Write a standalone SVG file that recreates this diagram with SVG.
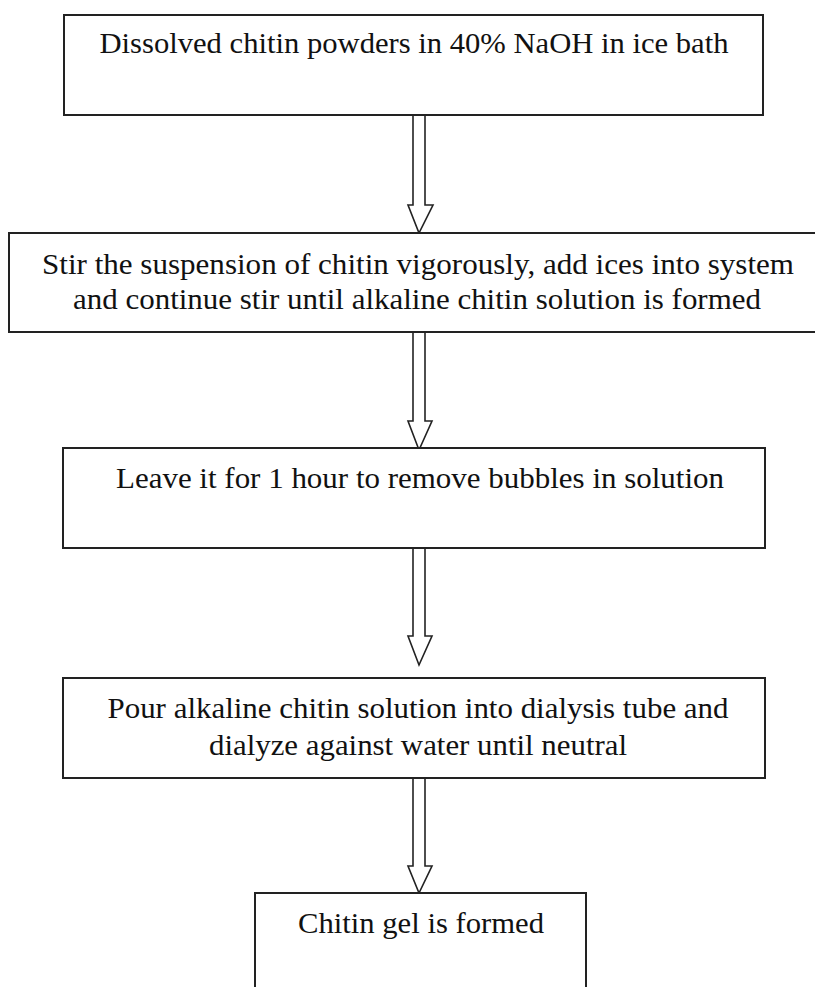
<svg xmlns="http://www.w3.org/2000/svg" width="815" height="987" viewBox="0 0 815 987">
<style>
.box{fill:#fff;stroke:#222;stroke-width:2}
.t{font-family:"Liberation Serif","Times New Roman",serif;font-size:30px;fill:#111;text-anchor:middle}
.arr{fill:#fff;stroke:#222;stroke-width:1.6;stroke-linejoin:miter}
</style>
<rect width="815" height="987" fill="#fff"/>
<g id="connectors">
<path class="arr" d="M413,115 V205 H408 L419,233 L433,205 H425 V115 Z"/>
<path class="arr" d="M413,332 V421 H408 L419,450 L432,421 H425 V332 Z"/>
<path class="arr" d="M413,546 V636 H408 L419,665 L432,636 H425 V546 Z"/>
<path class="arr" d="M413,777 V866 H408 L419,893 L432,866 H425 V777 Z"/>
</g>
<g id="n1">
<rect class="box" x="64" y="15" width="699" height="100"/>
<text class="t" x="414" y="53" textLength="629" lengthAdjust="spacingAndGlyphs">Dissolved chitin powders in 40% NaOH in ice bath</text>
</g>
<g id="n2">
<rect class="box" x="9" y="233" width="815" height="99"/>
<text class="t" x="418" y="274" textLength="752" lengthAdjust="spacingAndGlyphs">Stir the suspension of chitin vigorously, add ices into system</text>
<text class="t" x="417" y="309" textLength="688" lengthAdjust="spacingAndGlyphs">and continue stir until alkaline chitin solution is formed</text>
</g>
<g id="n3">
<rect class="box" x="63" y="448" width="702" height="100"/>
<text class="t" x="420" y="488" textLength="608" lengthAdjust="spacingAndGlyphs">Leave it for 1 hour to remove bubbles in solution</text>
</g>
<g id="n4">
<rect class="box" x="63" y="678" width="702" height="100"/>
<text class="t" x="418" y="718" textLength="621" lengthAdjust="spacingAndGlyphs">Pour alkaline chitin solution into dialysis tube and</text>
<text class="t" x="418" y="755" textLength="418" lengthAdjust="spacingAndGlyphs">dialyze against water until neutral</text>
</g>
<g id="n5">
<path class="box" d="M255,992 V893 H586 V992"/>
<text class="t" x="421" y="933" textLength="246" lengthAdjust="spacingAndGlyphs">Chitin gel is formed</text>
</g>
</svg>
